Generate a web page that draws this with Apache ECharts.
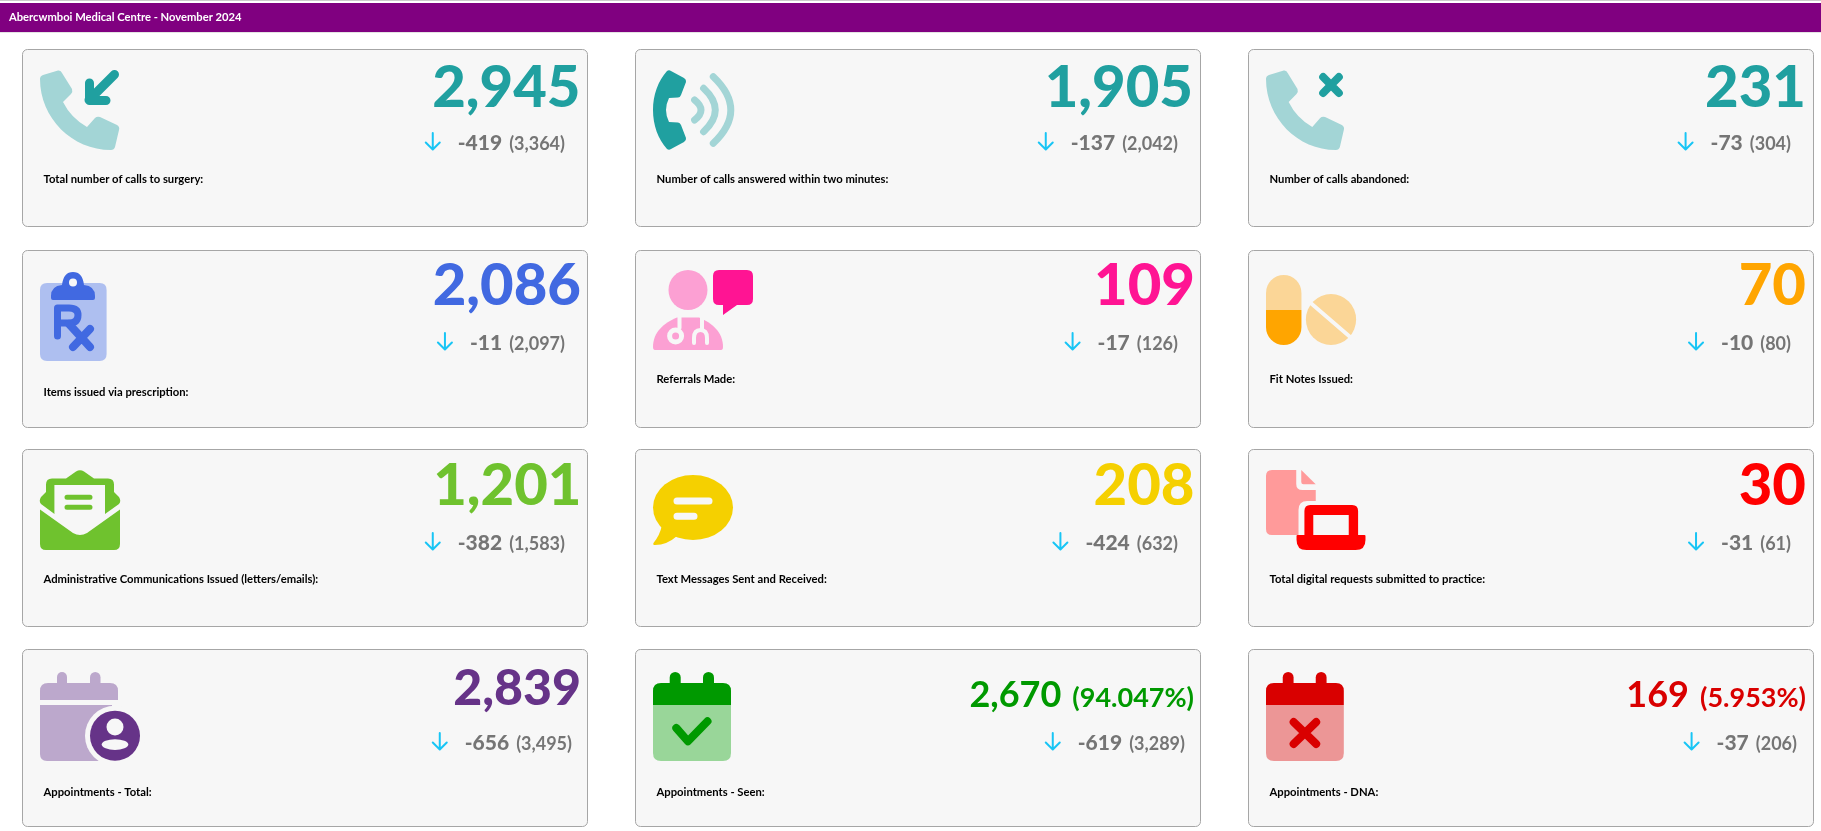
<!DOCTYPE html>
<html>
<head>
<meta charset="utf-8">
<title>Abercwmboi Medical Centre</title>
<style>
  html, body { margin: 0; padding: 0; background: #fff; }
  #main { width: 1821px; height: 831px; }
</style>
</head>
<body>
<div id="main"></div>
<script src="https://cdn.jsdelivr.net/npm/echarts@6/dist/echarts.min.js"></script>
<script>
// figures
const pageTitle = 'Abercwmboi Medical Centre - November 2024';
const kpiTitles = [
  'Total number of calls to surgery:',
  'Number of calls answered within two minutes:',
  'Number of calls abandoned:',
  'Items issued via prescription:',
  'Referrals Made:',
  'Fit Notes Issued:',
  'Administrative Communications Issued (letters/emails):',
  'Text Messages Sent and Received:',
  'Total digital requests submitted to practice:',
  'Appointments - Total:',
  'Appointments - Seen:',
  'Appointments - DNA:'
];
const kpiValues = [2945, 1905, 231, 2086, 109, 70, 1201, 208, 30, 2839, 2670, 169];
const kpiPercents = [null, null, null, null, null, null, null, null, null, null, '94.047', '5.953'];
const kpiChanges = [-419, -137, -73, -11, -17, -10, -382, -424, -31, -656, -619, -37];
const kpiPrevious = [3364, 2042, 304, 2097, 126, 80, 1583, 632, 61, 3495, 3289, 206];

// colours
const kpiDark = ['#20a0a0', '#20a0a0', '#20a0a0', '#4169e1', '#ff1493', '#ffa500', '#6fc22e', '#f5d000', '#ff0000', '#663388', '#009900', '#d90000'];
const kpiLight = ['#a3d5d6', '#a3d5d6', '#a3d5d6', '#aebff0', '#fca0d3', '#fbd697', '#6fc22e', '#f5d000', '#ff9a9a', '#bca8cc', '#99d699', '#ec9696'];
const cardFill = '#f7f7f7';
const arrowColor = '#18c5f5';
const subColor = '#757575';

// layout
const cardLefts = [22, 635, 1248];
const cardTops = [49, 250, 449, 649];
const cardW = 565;
const cardH = 177;
const iconScaleX = [1, 1, 0.985];
const bigRight = [580.5, 1193, 1806, 581, 1195, 1806, 581.5, 1194.5, 1806, 581, 1194, 1806];
const bigBase = [107, 107, 107, 305, 305, 305, 505, 505, 505, 705, 707, 707];
const bigSize = [58, 58, 58, 58, 58, 58, 58, 58, 58, 50, 36, 36];
const subRight = [565, 1178, 1791, 565, 1178, 1791, 565, 1178, 1791, 572, 1185, 1797];
const subBase = [150, 350, 550, 750];
const titleMid = [180, 180, 180, 393, 380, 380, 580, 580, 580, 793, 793, 793];
const iconTops = [70, 70, 70, 272, 270, 275, 470, 475, 470, 672, 672, 672];

// icon drawing, [fill|stroke tone, path, line width]
const phonePath = 'M3,5 L18,0.5 Q21,0 22,3 L32,19 Q33,22 31,24 L23,32 Q31,48 47,57 L55,48 Q57,46 60,47 L77,55 Q80,57 79,60 L75,77 Q74,80 71,80 C32,80 0,48 0,9 Q0,6 3,5 Z';
function peg(x, w) {
  return 'M' + x + ',14 L' + x + ',' + (w / 2) + ' A' + (w / 2) + ',' + (w / 2) + ' 0 0 1 ' + (x + w) + ',' + (w / 2) + ' L' + (x + w) + ',14 Z';
}
const kpiIcons = [
  [['l', phonePath], ['d', 'M74.5,4.5 L49,30 M49.5,13 L49.5,30.5 L66,30.5', 9]],
  [['d', 'M14,1 Q16,-0.5 18,1 L31,8 Q33.5,9.5 33,12 L28,25 Q27,27.5 25,27.5 L16,28 Q13,34 13,40 Q13,46 16,52 L25,52.5 Q27,52.5 28,55 L33,68 Q33.5,70.5 31,72 L18,79 Q16,80.5 14,79 C5,69 0,55 0,40 C0,25 5,11 14,1 Z'],
    ['l', 'M41.6,30 Q54.4,40 41.6,50', 7], ['l', 'M50.6,18.3 Q74,40 50.6,61.7', 7], ['l', 'M60.3,6.7 Q95.3,40 60.3,73.3', 7]],
  [['l', phonePath], ['d', 'M58,7 L74,23 M74,7 L58,23', 8]],
  [['l', 'M7,11 L59.6,11 Q66.6,11 66.6,18 L66.6,82 Q66.6,89 59.6,89 L7,89 Q0,89 0,82 L0,18 Q0,11 7,11 Z'],
    ['d', 'M13,28 Q11,28 11,26 L11,24 Q11,14 22,13 Q23.5,0 33,0 Q42.5,0 44,13 Q55,14 55,24 L55,26 Q55,28 53,28 Z'],
    ['b', 'M29,10.5 A4,4 0 1 1 37,10.5 A4,4 0 1 1 29,10.5 Z'],
    ['d', 'M17.5,64 L17.5,36 L29,36 Q38,36 38,43 Q38,51 29,51 L17.5,51', 7], ['d', 'M29,52 L50,75 M50,57 L33,75', 8]],
  [['l', 'M54.5,20 A19.5,20 0 1 1 15.5,20 A19.5,20 0 1 1 54.5,20 Z'],
    ['l', 'M2,80 Q0,80 0,77 C0,62 11,53 24,47.5 L46,47.5 C59,53 70,62 70,77 Q70,80 68,80 Z'],
    ['b', 'M26.5,47 L26.5,58', 4], ['b', 'M16.6,66 A6,6 0 1 1 28.6,66 A6,6 0 1 1 16.6,66 Z', 5],
    ['b', 'M49,47 L49,59', 4], ['b', 'M41,73 L41,68 Q41,60 47.5,60 Q54,60 54,68 L54,73', 4],
    ['d', 'M66,0 L94,0 Q100,0 100,6 L100,29 Q100,35 94,35 L84,35 L70,45 L70,35 L66,35 Q60,35 60,29 L60,6 Q60,0 66,0 Z']],
  [['l', 'M0,35 L0,18 A18,18 0 0 1 36,18 L36,35 Z'], ['d', 'M0,35 L36,35 L36,52 A18,18 0 0 1 0,52 Z'],
    ['l', 'M40.5,44.5 A25.5,25.5 0 1 1 91.5,44.5 A25.5,25.5 0 1 1 40.5,44.5 Z'], ['b', 'M43,26 L89,65', 4]],
  [['d', 'M0,39.5 L33,63 Q40,67 47,63 L80,39.5 L80,74 Q80,80 74,80 L6,80 Q0,80 0,74 Z'],
    ['d', 'M36,1.5 Q40,-1 44,1.5 L54,8.5 L68,8.5 Q74,8.5 74,14.5 L74,22 L79,27 Q81.5,31 79,34 L65,44 L14.5,44 L1,34 Q-1.5,31 1,27 L6,22 L6,14.5 Q6,8.5 12,8.5 L26,8.5 Z'],
    ['b', 'M14.4,15 L65,15 L65,44 L14.4,44 Z'], ['d', 'M27,27.3 L50,27.3 M27,37.3 L50,37.3', 5]],
  [['d', 'M0,32.5 A40,32.5 0 1 1 80,32.5 A40,32.5 0 1 1 0,32.5 Z'], ['d', 'M9,50 Q7,60 0.5,68 Q-0.5,70 2,70 Q14,70 24,61 Z'],
    ['b', 'M24,26 L56,26 M24,41.3 L41,41.3', 7]],
  [['l', 'M6,0 L30.7,0 L30.7,14 Q30.7,20 37,20 L50.5,20 L50.5,31 L42,31 Q33,31 33,40 L33,65 L6,65 Q0,65 0,59 L0,6 Q0,0 6,0 Z'],
    ['l', 'M35.8,0 L50.5,14.3 L38,14.3 Q35.8,14.3 35.8,12 Z'],
    ['d', 'M39,65 L39,41 Q39,35 45,35 L87.5,35 Q93.5,35 93.5,41 L93.5,65 L84,65 L84,45 L48,45 L48,65 Z'],
    ['d', 'M31,66 Q31,65 32,65 L100,65 Q101,65 101,66 L101,70 Q101,80 91,80 L41,80 Q31,80 31,70 Z']],
  [['l', peg(17, 10)], ['l', peg(50, 10.5)], ['l', 'M0,28 L0,19 Q0,11 8,11 L70,11 Q78,11 78,19 L78,28 Z'],
    ['l', 'M0,33 L72,33 L72,89 L7,89 Q0,89 0,82 Z'],
    ['b', 'M45,63.7 A30,30 0 1 1 105,63.7 A30,30 0 1 1 45,63.7 Z'], ['d', 'M50,63.7 A25,25 0 1 1 100,63.7 A25,25 0 1 1 50,63.7 Z'],
    ['b', 'M66.5,55 A8.5,8.5 0 1 1 83.5,55 A8.5,8.5 0 1 1 66.5,55 Z'], ['b', 'M61.7,72.6 A13.3,5.3 0 1 1 88.3,72.6 A13.3,5.3 0 1 1 61.7,72.6 Z']],
  [['d', peg(16.7, 11)], ['d', peg(50, 11)], ['d', 'M0,33 L0,19 Q0,11 8,11 L70,11 Q78,11 78,19 L78,33 Z'],
    ['l', 'M0,33 L78,33 L78,81 Q78,89 70,89 L8,89 Q0,89 0,81 Z'], ['d', 'M23.3,56 L35,69.3 L54.5,49.3', 8]],
  [['d', peg(17, 11)], ['d', peg(50.5, 11)], ['d', 'M0,33 L0,19 Q0,11 8,11 L71,11 Q79,11 79,19 L79,33 Z'],
    ['l', 'M0,33 L79,33 L79,81 Q79,89 71,89 L8,89 Q0,89 0,81 Z'], ['d', 'M28,50 L51,72 M51,50 L28,72', 8]]
];

const measure = document.createElement('canvas').getContext('2d');
function textWidth(text, font) {
  measure.font = font;
  return measure.measureText(text).width;
}

// y is the text baseline
function textEl(text, x, y, size, weight, fill, align) {
  return {
    type: 'text',
    style: {
      text: text,
      x: x,
      y: y - size * 0.33,
      fill: fill,
      font: weight + ' ' + size + 'px Lato',
      align: align,
      verticalAlign: 'middle',
      textAlign: align,
      textVerticalAlign: 'middle'
    }
  };
}

function iconEls(i, x, y) {
  return kpiIcons[i].map(function (item) {
    const tone = item[0];
    const color = tone === 'd' ? kpiDark[i] : tone === 'l' ? kpiLight[i] : cardFill;
    const style = item[2]
      ? { fill: null, stroke: color, lineWidth: item[2], lineCap: 'round', lineJoin: 'round' }
      : { fill: color, stroke: null };
    return { type: 'path', x: x, y: y, scaleX: iconScaleX[i % 3], shape: { pathData: item[1] }, style: style };
  });
}

function renderTile(params) {
  const i = params.dataIndex;
  const left = cardLefts[i % 3];
  const rowIdx = Math.floor(i / 3);
  const top = cardTops[rowIdx];
  const children = [{
    type: 'rect',
    shape: { x: left + 0.5, y: top + 0.5, width: cardW, height: cardH, r: 5 },
    style: { fill: cardFill, stroke: '#a6a6a6', lineWidth: 1 }
  }];
  children.push.apply(children, iconEls(i, left + 18, iconTops[i]));

  // headline figure, with the share when there is one
  let right = bigRight[i];
  if (kpiPercents[i]) {
    const pct = '(' + kpiPercents[i] + '%)';
    children.push(textEl(pct, right, bigBase[i], 27, 'bold', kpiDark[i], 'right'));
    right -= textWidth(pct, 'bold 27px Lato') + 11;
  }
  children.push(textEl(kpiValues[i].toLocaleString('en-US'), right, bigBase[i], bigSize[i], kpiPercents[i] ? 'bold' : '900', kpiDark[i], 'right'));

  // change against the previous period
  const prev = '(' + kpiPrevious[i].toLocaleString('en-US') + ')';
  const change = String(kpiChanges[i]);
  const changeRight = subRight[i] - textWidth(prev, 'bold 18px Lato') - 7;
  const ax = changeRight - textWidth(change, '900 21px Lato') - 25;
  const ay = subBase[rowIdx];
  children.push(textEl(prev, subRight[i], ay, 18, 'bold', subColor, 'right'));
  children.push(textEl(change, changeRight, ay, 21, '900', subColor, 'right'));
  children.push({
    type: 'path',
    x: ax,
    y: ay - 17,
    shape: { pathData: 'M0,0 L0,16 M-7,9.5 L0,16.5 L7,9.5' },
    style: { fill: null, stroke: arrowColor, lineWidth: 2, lineCap: 'round', lineJoin: 'round' }
  });

  children.push(textEl(kpiTitles[i], left + 21.5, titleMid[i] + 3.5, 11.25, 'bold', '#000', 'left'));
  return { type: 'group', children: children };
}

const chart = echarts.init(document.getElementById('main'));
chart.setOption({
  animation: false,
  backgroundColor: '#fff',
  title: {
    text: pageTitle,
    left: 9,
    top: 12,
    padding: 0,
    textStyle: { color: '#fff', fontFamily: 'Lato', fontWeight: 'bold', fontSize: 11.2 }
  },
  graphic: [
    { type: 'rect', shape: { x: 0, y: 0, width: 1821, height: 1 }, style: { fill: '#cccccc' } },
    { type: 'rect', shape: { x: 0, y: 3, width: 1821, height: 29 }, style: { fill: '#800080' } },
    { type: 'rect', shape: { x: 0, y: 32, width: 1821, height: 1 }, style: { fill: '#e3e3e3' } }
  ],
  series: [{
    type: 'custom',
    coordinateSystem: 'none',
    silent: true,
    renderItem: renderTile,
    data: kpiValues
  }]
});
</script>
</body>
</html>
